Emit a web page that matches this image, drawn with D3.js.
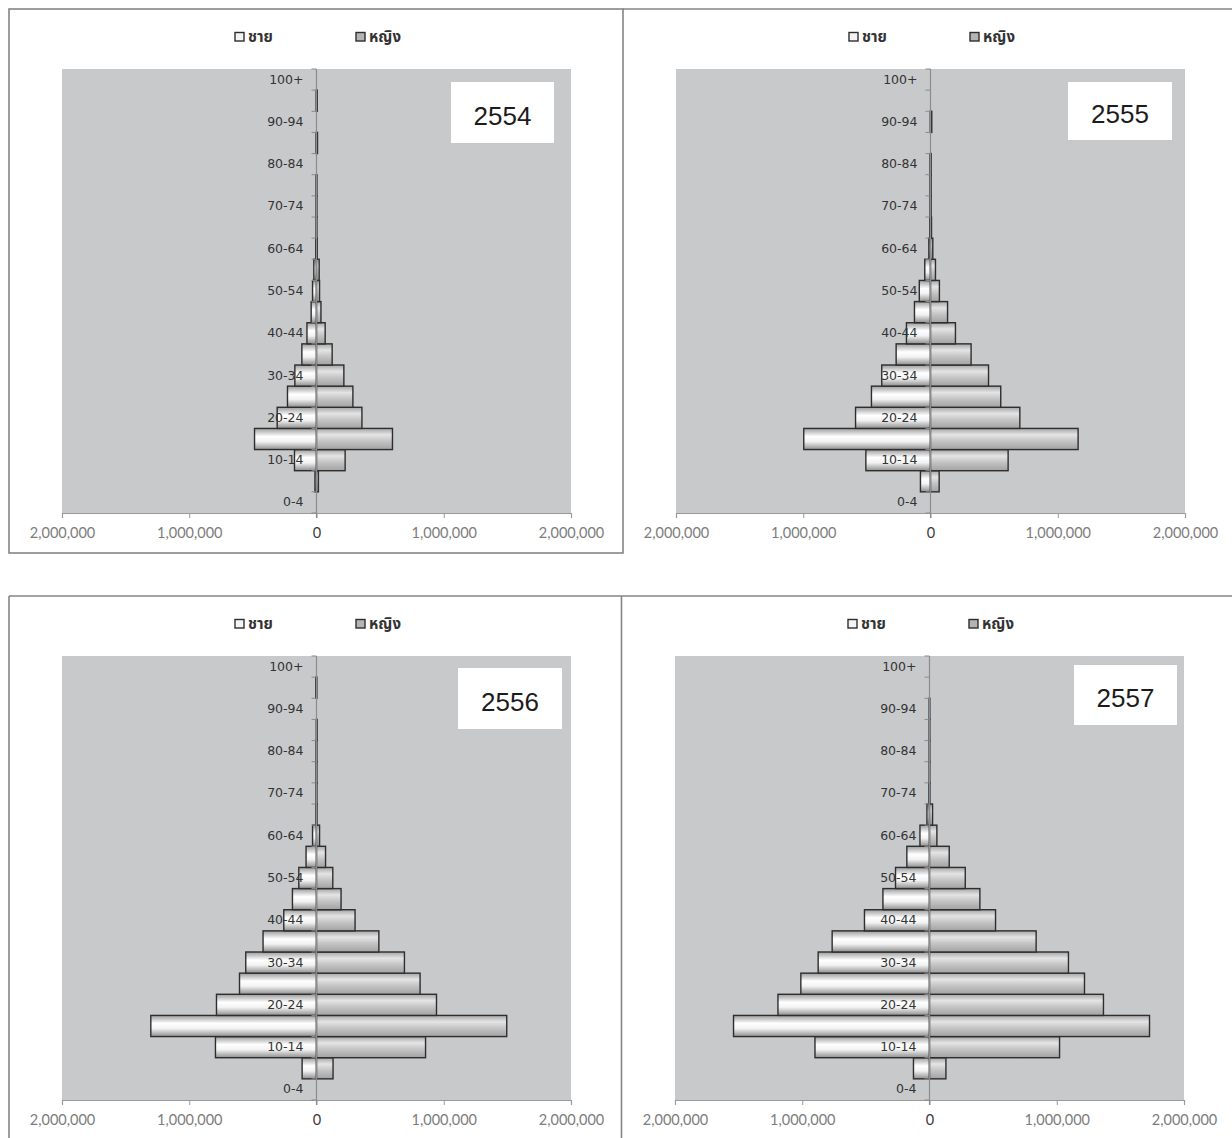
<!DOCTYPE html>
<html>
<head>
<meta charset="utf-8">
<script src="https://cdn.jsdelivr.net/npm/d3@7/dist/d3.min.js"></script>
<style>
  html, body { margin: 0; padding: 0; background: #ffffff; }
  svg { display: block; }
</style>
</head>
<body>
<svg id="chart" width="1232" height="1138"></svg>
<script>
// ---------------- DATA ----------------
const ageGroups = ["0-4","5-9","10-14","15-19","20-24","25-29","30-34","35-39","40-44","45-49",
                   "50-54","55-59","60-64","65-69","70-74","75-79","80-84","85-89","90-94","95-99","100+"];
const years = ["2554", "2555", "2556", "2557"];
const legendLabels = ["ชาย", "หญิง"];
const xTickValues = [-2000000, -1000000, 0, 1000000, 2000000];

const male2554   = [0, 12000, 173000, 487000, 309000, 228000, 170000, 115000, 75000, 42000,
                    31000, 21000, 6000, 3000, 3000, 3000, 0, 3000, 0, 2000, 0];
const female2554 = [0, 15000, 225000, 597000, 357000, 286000, 215000, 123000, 68000, 35000,
                    24000, 21000, 6000, 3000, 3000, 3000, 0, 8000, 0, 6000, 0];

const male2555   = [0, 79000, 508000, 996000, 589000, 464000, 383000, 270000, 189000, 126000,
                    88000, 45000, 13000, 5000, 3000, 3000, 3000, 0, 1000, 0, 0];
const female2555 = [0, 68000, 610000, 1160000, 702000, 552000, 456000, 319000, 196000, 134000,
                    70000, 39000, 18000, 8000, 5000, 5000, 5000, 0, 10000, 0, 0];

const male2556   = [0, 113000, 794000, 1302000, 786000, 605000, 556000, 420000, 257000, 189000,
                    139000, 82000, 31000, 4000, 3000, 3000, 3000, 1000, 0, 5000, 0];
const female2556 = [0, 130000, 857000, 1495000, 943000, 814000, 691000, 490000, 303000, 193000,
                    128000, 71000, 24000, 4000, 3000, 3000, 3000, 5000, 0, 2000, 0];

const male2557   = [0, 126000, 900000, 1540000, 1191000, 1011000, 875000, 765000, 511000, 366000,
                    267000, 178000, 75000, 20000, 4000, 2000, 2000, 2000, 2000, 0, 0];
const female2557 = [0, 129000, 1022000, 1729000, 1367000, 1218000, 1092000, 838000, 519000, 396000,
                    281000, 155000, 58000, 24000, 3000, 2000, 2000, 2000, 2000, 0, 0];

const maleSeries = [male2554, male2555, male2556, male2557];
const femaleSeries = [female2554, female2555, female2556, female2557];

// ---------------- LAYOUT ----------------
const panelOffsets = [[0, 0], [614, 0], [0, 587], [613, 587]];
const yearBoxes = [[451, 82, 103, 61], [454, 82, 104, 58], [458, 81, 104, 61], [461, 78, 103, 60]];
const plot = { x0: 62, x1: 571, y0: 69, y1: 513 };

const svg = d3.select("#chart");
const defs = svg.append("defs");

function addGrad(id, stops) {
  const g = defs.append("linearGradient").attr("id", id)
    .attr("x1", 0).attr("y1", 0).attr("x2", 0).attr("y2", 1);
  stops.forEach(s => g.append("stop").attr("offset", s[0]).attr("stop-color", s[1]));
}
addGrad("gMale", [["0%", "#9c9c9c"], ["38%", "#ffffff"], ["62%", "#f2f2f2"], ["100%", "#8e8e8e"]]);
addGrad("gFemale", [["0%", "#a6a6a6"], ["30%", "#e4e4e4"], ["60%", "#c4c4c4"], ["100%", "#a2a2a2"]]);

// Panel borders
const borders = svg.append("g").attr("stroke", "#858585").attr("stroke-width", 1.6).attr("fill", "none");
borders.append("rect").attr("x", 9).attr("y", 9).attr("width", 614).attr("height", 544);
borders.append("line").attr("x1", 623).attr("y1", 9).attr("x2", 1232).attr("y2", 9);
borders.append("line").attr("x1", 9).attr("y1", 596).attr("x2", 1232).attr("y2", 596);
borders.append("line").attr("x1", 9).attr("y1", 596).attr("x2", 9).attr("y2", 1138);
borders.append("line").attr("x1", 621.5).attr("y1", 596).attr("x2", 621.5).attr("y2", 1138);

const x = d3.scaleLinear().domain([-2000000, 2000000]).range([plot.x0, plot.x1]);
const y = d3.scaleBand().domain(ageGroups).range([plot.y1, plot.y0]).padding(0);
const absFormat = d => d3.format(",")(Math.abs(d));

years.forEach((year, i) => {
  const [dx, dy] = panelOffsets[i];
  const g = svg.append("g").attr("transform", `translate(${dx},${dy})`);
  const male = maleSeries[i], female = femaleSeries[i];

  // plot area
  g.append("rect").attr("x", plot.x0).attr("y", plot.y0)
    .attr("width", plot.x1 - plot.x0).attr("height", plot.y1 - plot.y0)
    .attr("fill", "#c8c9cb");

  // bars
  const rows = ageGroups.map((a, k) => ({ age: a, m: male[k], f: female[k] }));
  g.append("g").selectAll("rect").data(rows.filter(d => d.m > 0)).join("rect")
    .attr("x", d => x(-d.m)).attr("y", d => y(d.age))
    .attr("width", d => x(0) - x(-d.m)).attr("height", y.bandwidth())
    .attr("fill", "url(#gMale)").attr("stroke", "#2e2e2e").attr("stroke-width", 1.4);
  g.append("g").selectAll("rect").data(rows.filter(d => d.f > 0)).join("rect")
    .attr("x", x(0)).attr("y", d => y(d.age))
    .attr("width", d => x(d.f) - x(0)).attr("height", y.bandwidth())
    .attr("fill", "url(#gFemale)").attr("stroke", "#2e2e2e").attr("stroke-width", 1.4);

  // x axis
  const xAxis = d3.axisBottom(x).tickValues(xTickValues).tickSize(5).tickPadding(10)
    .tickFormat(absFormat);
  const xa = g.append("g").attr("transform", `translate(0,${plot.y1})`).call(xAxis);
  xa.select(".domain").attr("stroke", "#9a9a9a").attr("stroke-width", 1.2);
  xa.selectAll(".tick line").attr("stroke", "#9a9a9a");
  xa.selectAll(".tick text").attr("font-family", "Lato, 'Open Sans', sans-serif")
    .attr("font-size", "14.5px").attr("fill", d => d === 0 ? "#3a3a3a" : "#7c7c7c");

  // y axis at zero
  const yAxis = d3.axisLeft(y).tickSize(0).tickPadding(13)
    .tickFormat(d => ageGroups.indexOf(d) % 2 === 0 ? d : "");
  const ya = g.append("g").attr("transform", `translate(${x(0)},0)`).call(yAxis);
  ya.select(".domain").remove();
  ya.selectAll(".tick text").attr("font-family", "'DejaVu Sans', Verdana, sans-serif")
    .attr("font-size", "12.5px").attr("fill", "#333333");
  // boundary ticks
  const bounds = ageGroups.map(a => y(a)).concat([plot.y1]);
  g.append("g").selectAll("line").data(bounds).join("line")
    .attr("x1", x(0) - 5).attr("x2", x(0)).attr("y1", d => d).attr("y2", d => d)
    .attr("stroke", "#8c8c8c").attr("stroke-width", 1);
  g.append("line").attr("x1", x(0)).attr("x2", x(0)).attr("y1", plot.y0).attr("y2", plot.y1 + 5)
    .attr("stroke", "#8c8c8c").attr("stroke-width", 1.2);

  // legend
  const leg = g.append("g");
  const legPos = [235, 356];
  const legFill = ["#f4f4f4", "#b4b4b4"];
  legendLabels.forEach((lab, j) => {
    leg.append("rect").attr("x", legPos[j]).attr("y", 32.5).attr("width", 9).attr("height", 8.5)
      .attr("fill", legFill[j]).attr("stroke", "#2e2e2e").attr("stroke-width", 1.4);
    leg.append("text").attr("x", legPos[j] + 13).attr("y", 42)
      .attr("font-family", "'Noto Sans Thai', 'Noto Sans', 'Tahoma', sans-serif")
      .attr("font-size", "15px").attr("font-weight", "bold").attr("fill", "#333")
      .text(lab);
  });

  // year box
  const [bx, by, bw, bh] = yearBoxes[i];
  g.append("rect").attr("x", bx).attr("y", by).attr("width", bw).attr("height", bh).attr("fill", "#ffffff");
  g.append("text").attr("x", bx + bw / 2).attr("y", by + bh / 2 + 12)
    .attr("text-anchor", "middle").attr("font-family", "'Liberation Sans', Arial, sans-serif")
    .attr("font-size", "26px").attr("fill", "#1c1c1c").text(year);
});
</script>
</body>
</html>
